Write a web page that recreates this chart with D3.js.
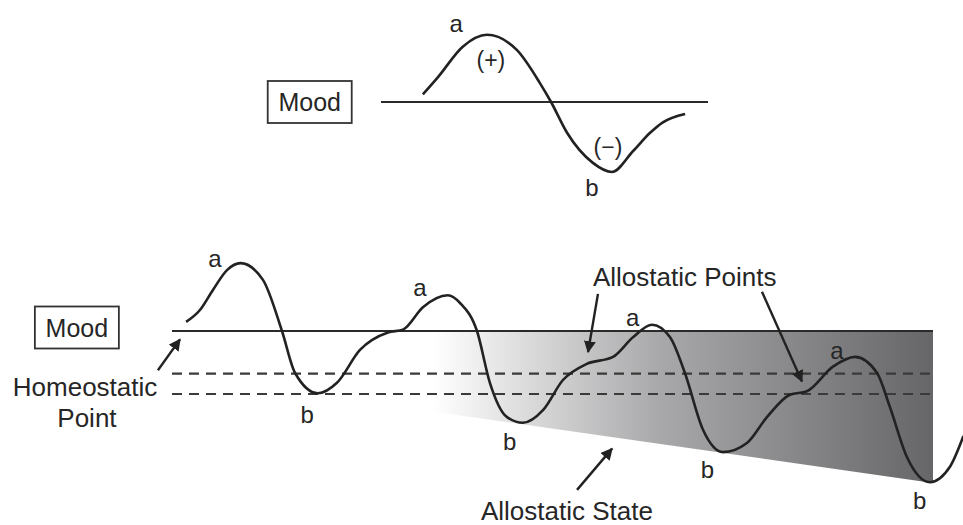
<!DOCTYPE html>
<html>
<head>
<meta charset="utf-8">
<script src="https://cdn.jsdelivr.net/npm/d3@7"></script>
<style>
  body { margin: 0; background: #fff; }
  text { font-family: "Liberation Sans", Arial, sans-serif; fill: #262626; }
</style>
</head>
<body>
<div id="chart"></div>
<script>
// Top panel: one mood swing, time t (0..10) vs mood m
const topCurve = [
    [1.28, 0.11], [1.75, 0.36], [2.5, 0.79], [3.24, 0.96], [4.16, 0.74],
    [4.86, 0.27], [5.2, 0], [5.69, -0.44], [6.48, -0.87], [7.06, -1.0],
    [7.71, -0.7], [8.23, -0.44], [8.62, -0.29], [9.3, -0.17]
];
const topLabels = [
    { t: 2.3, m: 1.13, text: "a", size: 24 },
    { t: 3.36, m: 0.6, text: "(+)", size: 23 },
    { t: 6.94, m: -0.64, text: "(\u2212)", size: 23 },
    { t: 6.45, m: -1.22, text: "b", size: 24 }
];

// Bottom panel: repeated swings drifting downward, time t (0..40) vs mood m
const bottomCurve = [
    [0.74, 0.13], [1.47, 0.3], [2.16, 0.59], [2.89, 0.87], [3.6, 0.97], [4.78, 0.73],
    [5.78, 0], [6.47, -0.6], [7.67, -0.89], [8.67, -0.74], [9.88, -0.27],
    [11.35, -0.02], [12.14, 0.02], [13.19, 0.34], [14.5, 0.51], [15.14, 0.4],
    [16.03, 0], [16.71, -0.74], [17.61, -1.23], [18.45, -1.31], [19.5, -1.13],
    [20.55, -0.7], [21.8, -0.47], [23.18, -0.37], [24.23, -0.09], [25.23, 0.09],
    [26.18, -0.09], [26.96, -0.6], [27.91, -1.41], [28.96, -1.73], [30.22, -1.6],
    [31.27, -1.23], [32.48, -0.91], [33.38, -0.86], [34.74, -0.51], [35.9, -0.37],
    [37.06, -0.6], [37.74, -1.09], [38.63, -1.8], [39.84, -2.16], [40.89, -1.94],
    [41.6, -1.5]
];
const homeostaticLevel = 0;
const dashedLevels = [-0.61, -0.9];
// allostatic state wedge: [t, m]
const allostaticState = [[11.6, 0], [40, 0], [40, -2.17], [11.6, -1.07]];
const bottomLabels = [
    { t: 2.25, m: 1.04, text: "a" },
    { t: 13.03, m: 0.63, text: "a" },
    { t: 24.22, m: 0.19, text: "a" },
    { t: 34.95, m: -0.27, text: "a" },
    { t: 7.1, m: -1.19, text: "b" },
    { t: 17.75, m: -1.58, text: "b" },
    { t: 28.15, m: -1.98, text: "b" },
    { t: 39.3, m: -2.42, text: "b" },
    { t: 26.95, m: 0.77, text: "Allostatic Points" },
    { t: 20.76, m: -2.57, text: "Allostatic State" },
    { t: -4.57, m: -0.8, text: "Homeostatic" },
    { t: -4.47, m: -1.24, text: "Point" }
];
// arrows: [t1, m1, t2, m2]
const arrows = [
    [-0.74, -0.56, 0.42, -0.12],
    [22.39, 0.53, 21.87, -0.3],
    [31.01, 0.56, 33.11, -0.72],
    [21.29, -2.27, 23.13, -1.68]
];

const width = 963, height = 525;

const svg = d3.select("#chart")
    .append("svg")
    .attr("width", width)
    .attr("height", height)
    .attr("viewBox", [0, 0, width, height]);

const xTop = d3.scaleLinear().domain([0, 10]).range([381, 708]);
const yTop = d3.scaleLinear().domain([-1, 1]).range([172, 32]);
const xBot = d3.scaleLinear().domain([0, 40]).range([172, 933]);
const yBot = d3.scaleLinear().domain([-2, 1]).range([471, 261]);

const defs = svg.append("defs");
defs.append("marker")
    .attr("id", "head")
    .attr("viewBox", "0 0 10 10")
    .attr("refX", 9).attr("refY", 5)
    .attr("markerWidth", 5).attr("markerHeight", 5)
    .attr("markerUnits", "strokeWidth")
    .attr("orient", "auto")
    .append("path")
    .attr("d", "M0,0L10,5L0,10z")
    .attr("fill", "#222");

const grad = defs.append("linearGradient")
    .attr("id", "shade")
    .attr("gradientUnits", "userSpaceOnUse")
    .attr("x1", xBot(13.7)).attr("x2", xBot(40))
    .attr("y1", 0).attr("y2", 0);
grad.append("stop").attr("offset", "0%").attr("stop-color", "#ffffff");
grad.append("stop").attr("offset", "45%").attr("stop-color", "#a9a9ab");
grad.append("stop").attr("offset", "100%").attr("stop-color", "#666668");

// Mood boxes
function moodBox(cx, cy) {
    svg.append("rect")
        .attr("x", cx - 42).attr("y", cy - 21)
        .attr("width", 84).attr("height", 42)
        .attr("fill", "none").attr("stroke", "#333").attr("stroke-width", 1.8);
    svg.append("text")
        .attr("x", cx).attr("y", cy).attr("dy", "0.36em")
        .attr("text-anchor", "middle")
        .style("font-size", "25px")
        .text("Mood");
}
moodBox(xTop(-2.18), yTop(0));
moodBox(xBot(-5.0), yBot(0.05));

// ---- top panel
svg.append("line")
    .attr("x1", xTop(0)).attr("x2", xTop(10))
    .attr("y1", yTop(0)).attr("y2", yTop(0))
    .attr("stroke", "#2a2a2a").attr("stroke-width", 2);

svg.append("path")
    .datum(topCurve)
    .attr("fill", "none")
    .attr("stroke", "#222")
    .attr("stroke-width", 2.6)
    .attr("d", d3.line().x(d => xTop(d[0])).y(d => yTop(d[1])).curve(d3.curveMonotoneX));

svg.append("g").selectAll("text")
    .data(topLabels)
    .join("text")
    .attr("x", d => xTop(d.t)).attr("y", d => yTop(d.m))
    .attr("dy", "0.36em")
    .attr("text-anchor", "middle")
    .style("font-size", d => d.size + "px")
    .text(d => d.text);

// ---- bottom panel
svg.append("path")
    .datum(allostaticState)
    .attr("fill", "url(#shade)")
    .attr("d", d3.line().x(d => xBot(d[0])).y(d => yBot(d[1])));

svg.append("line")
    .attr("x1", xBot(0)).attr("x2", xBot(40))
    .attr("y1", yBot(homeostaticLevel)).attr("y2", yBot(homeostaticLevel))
    .attr("stroke", "#2a2a2a").attr("stroke-width", 2);

svg.append("g").selectAll("line")
    .data(dashedLevels)
    .join("line")
    .attr("x1", xBot(0)).attr("x2", xBot(40))
    .attr("y1", d => yBot(d)).attr("y2", d => yBot(d))
    .attr("stroke", "#3a3a3a").attr("stroke-width", 2.2)
    .attr("stroke-dasharray", "10,7");

svg.append("path")
    .datum(bottomCurve)
    .attr("fill", "none")
    .attr("stroke", "#222")
    .attr("stroke-width", 2.6)
    .attr("d", d3.line().x(d => xBot(d[0])).y(d => yBot(d[1])).curve(d3.curveMonotoneX));

svg.append("g").selectAll("line")
    .data(arrows)
    .join("line")
    .attr("x1", d => xBot(d[0])).attr("y1", d => yBot(d[1]))
    .attr("x2", d => xBot(d[2])).attr("y2", d => yBot(d[3]))
    .attr("stroke", "#222").attr("stroke-width", 2.4)
    .attr("marker-end", "url(#head)");

svg.append("g").selectAll("text")
    .data(bottomLabels)
    .join("text")
    .attr("x", d => xBot(d.t)).attr("y", d => yBot(d.m))
    .attr("dy", "0.36em")
    .attr("text-anchor", "middle")
    .style("font-size", d => d.text.length > 1 ? "26px" : "24px")
    .text(d => d.text);
</script>
</body>
</html>
